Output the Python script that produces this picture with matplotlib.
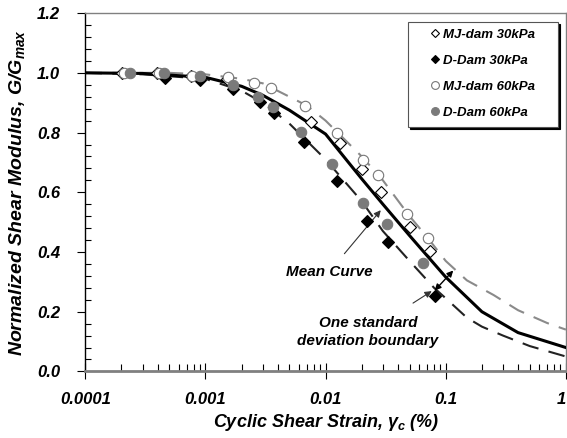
import matplotlib
matplotlib.use("Agg")
import matplotlib.pyplot as plt
from matplotlib.patches import Rectangle
from matplotlib.ticker import FixedLocator, MultipleLocator, FuncFormatter, LogLocator, NullFormatter
import numpy as np

plt.rcParams["font.family"] = ["Liberation Sans", "DejaVu Sans"]
plt.rcParams["mathtext.fontset"] = "custom"
plt.rcParams["mathtext.rm"] = "Liberation Sans:bold:italic"
plt.rcParams["mathtext.it"] = "Liberation Sans:bold:italic"
plt.rcParams["mathtext.bf"] = "Liberation Sans:bold:italic"

# test data (strain %, G/Gmax)
mj30_x = [0.000202, 0.000395, 0.00076, 0.00151, 0.0076, 0.0132, 0.0201, 0.029, 0.0505, 0.0741]
mj30_y = [1.00, 0.998, 0.988, 0.978, 0.834, 0.764, 0.677, 0.601, 0.483, 0.403]

dd30_x = [0.00046, 0.0009, 0.0017, 0.00285, 0.00372, 0.0066, 0.0124, 0.022, 0.033, 0.081]
dd30_y = [0.982, 0.975, 0.945, 0.901, 0.865, 0.767, 0.639, 0.505, 0.433, 0.253]

mj60_x = [0.00021, 0.00041, 0.00078, 0.00154, 0.00253, 0.0035, 0.0067, 0.0124, 0.0204, 0.0272, 0.0474, 0.071]
mj60_y = [1.00, 0.998, 0.99, 0.985, 0.965, 0.948, 0.888, 0.798, 0.707, 0.657, 0.527, 0.446]

dd60_x = [0.000236, 0.000453, 0.000904, 0.0017, 0.00274, 0.00365, 0.00624, 0.0113, 0.0205, 0.0324, 0.0646]
dd60_y = [1.00, 0.998, 0.988, 0.958, 0.918, 0.885, 0.801, 0.694, 0.564, 0.493, 0.363]

# fitted curves
mean_x = [0.0001, 0.0003, 0.001, 0.002, 0.003, 0.005, 0.01, 0.02, 0.03, 0.05, 0.1, 0.2, 0.4, 1.0]
mean_y = [1.0, 0.998, 0.985, 0.955, 0.925, 0.875, 0.795, 0.645, 0.56, 0.455, 0.316, 0.2, 0.13, 0.08]

upper_x = [0.0001, 0.0005, 0.001, 0.002, 0.003, 0.005, 0.007, 0.01, 0.02, 0.03, 0.05, 0.07, 0.1, 0.15, 0.25, 0.4, 0.7, 1.0]
upper_y = [1.0, 1.0, 0.995, 0.98, 0.965, 0.92, 0.89, 0.84, 0.72, 0.64, 0.52, 0.45, 0.37, 0.305, 0.256, 0.205, 0.162, 0.14]

lower_x = [0.0001, 0.0003, 0.001, 0.002, 0.003, 0.005, 0.01, 0.02, 0.03, 0.05, 0.08, 0.1, 0.15, 0.2, 0.3, 0.5, 1.0]
lower_y = [1.0, 0.995, 0.98, 0.94, 0.9, 0.83, 0.71, 0.57, 0.47, 0.37, 0.28, 0.245, 0.18, 0.15, 0.12, 0.085, 0.05]

labels = ["MJ-dam 30kPa", "D-Dam 30kPa", "MJ-dam 60kPa", "D-Dam 60kPa"]

fig = plt.figure(figsize=(5.67, 4.38), dpi=100)
ax = fig.add_axes([0.1504, 0.152, 0.8476, 0.818])

ax.plot(upper_x, upper_y, color="#8a8a8a", lw=1.5, dashes=(8, 5), zorder=2)
ax.plot(lower_x, lower_y, color="#222222", lw=1.5, dashes=(8, 5), zorder=2)
ax.plot(mean_x, mean_y, color="black", lw=2.2, zorder=3)

h1, = ax.plot(mj30_x, mj30_y, ls="none", marker="D", ms=6, mfc="white", mec="black", mew=0.8, zorder=4)
h2, = ax.plot(dd30_x, dd30_y, ls="none", marker="D", ms=6, mfc="black", mec="black", mew=0.8, zorder=4)
h3, = ax.plot(mj60_x, mj60_y, ls="none", marker="o", ms=7.5, mfc="white", mec="#777777", mew=0.8, zorder=4)
h4, = ax.plot(dd60_x, dd60_y, ls="none", marker="o", ms=7.5, mfc="#7a7a7a", mec="#7a7a7a", mew=0.8, zorder=4)

ax.set_xscale("log")
ax.set_xlim(0.0001, 1)
ax.set_ylim(0, 1.2)

ax.xaxis.set_major_locator(FixedLocator([0.0001, 0.001, 0.01, 0.1, 1]))
ax.xaxis.set_major_formatter(FuncFormatter(lambda v, p: ("%g" % v) if v < 1 else "1"))
ax.xaxis.set_minor_locator(LogLocator(base=10, subs=np.arange(2, 10)))
ax.xaxis.set_minor_formatter(NullFormatter())
ax.yaxis.set_major_locator(MultipleLocator(0.2))
ax.yaxis.set_minor_locator(MultipleLocator(0.04))
ax.yaxis.set_major_formatter(FuncFormatter(lambda v, p: "%.1f" % v))

ax.tick_params(axis="x", which="major", direction="inout", length=11, width=0.8, pad=9)
ax.tick_params(axis="x", which="minor", direction="in", length=5, width=0.8)
ax.tick_params(axis="y", which="major", direction="out", length=6, width=0.8, pad=12)
ax.tick_params(axis="y", which="minor", direction="in", length=4, width=0.8)
for lab in ax.get_xticklabels() + ax.get_yticklabels():
    lab.set_fontsize(12)
    lab.set_fontweight("bold")
    lab.set_fontstyle("italic")
ax.get_xticklabels()[-1].set_horizontalalignment("right")

ax.spines["left"].set_color("black")
ax.spines["left"].set_linewidth(1.0)
ax.spines["bottom"].set_color("#808080")
ax.spines["bottom"].set_linewidth(2.0)
ax.spines["top"].set_color("#808080")
ax.spines["top"].set_linewidth(1.0)
ax.spines["right"].set_color("#808080")
ax.spines["right"].set_linewidth(1.0)

ax.set_xlabel(r"Cyclic Shear Strain, $\gamma_c$ (%)", fontsize=13, fontweight="bold", fontstyle="italic", labelpad=4)
ax.set_ylabel(r"Normalized Shear Modulus, G/G$_{max}$", fontsize=14, fontweight="bold", fontstyle="italic", labelpad=7)

# legend box with offset shadow, drawn by hand
bx0, by0, bw, bh = 0.671, 0.682, 0.312, 0.293
ax.add_patch(Rectangle((bx0 + 0.004, by0 - 0.006), bw, bh, transform=ax.transAxes,
                       facecolor="black", edgecolor="black", lw=0.8, zorder=6))
ax.add_patch(Rectangle((bx0, by0), bw, bh, transform=ax.transAxes,
                       facecolor="white", edgecolor="#555555", lw=0.8, zorder=7))
leg = ax.legend([h1, h2, h3, h4], labels, loc="upper left", bbox_to_anchor=(0.712, 0.968),
                frameon=False, prop={"size": 9.5, "weight": "bold", "style": "italic"},
                markerscale=0.75, handlelength=0.5, handletextpad=0.4, labelspacing=1.05,
                borderpad=0.3, borderaxespad=0)
leg.set_zorder(8)

txt = dict(fontsize=11, fontweight="bold", fontstyle="italic", ha="center", va="center")
ax.annotate("Mean Curve", xy=(0.0288, 0.54), xytext=(0.0107, 0.333),
            arrowprops=dict(arrowstyle="-|>", color="#333333", lw=0.8, shrinkA=8, shrinkB=0, mutation_scale=10), **txt)
ax.annotate("One standard\ndeviation boundary", xy=(0.0765, 0.269), xytext=(0.0225, 0.132),
            arrowprops=dict(arrowstyle="-|>", color="#333333", lw=0.8, shrinkA=14, shrinkB=0, mutation_scale=10),
            linespacing=1.3, **txt)
ax.annotate("", xy=(0.081, 0.271), xytext=(0.1155, 0.338),
            arrowprops=dict(arrowstyle="<|-|>", color="black", lw=1.0, shrinkA=0, shrinkB=0, mutation_scale=9))

fig.savefig("out.png", dpi=100)
